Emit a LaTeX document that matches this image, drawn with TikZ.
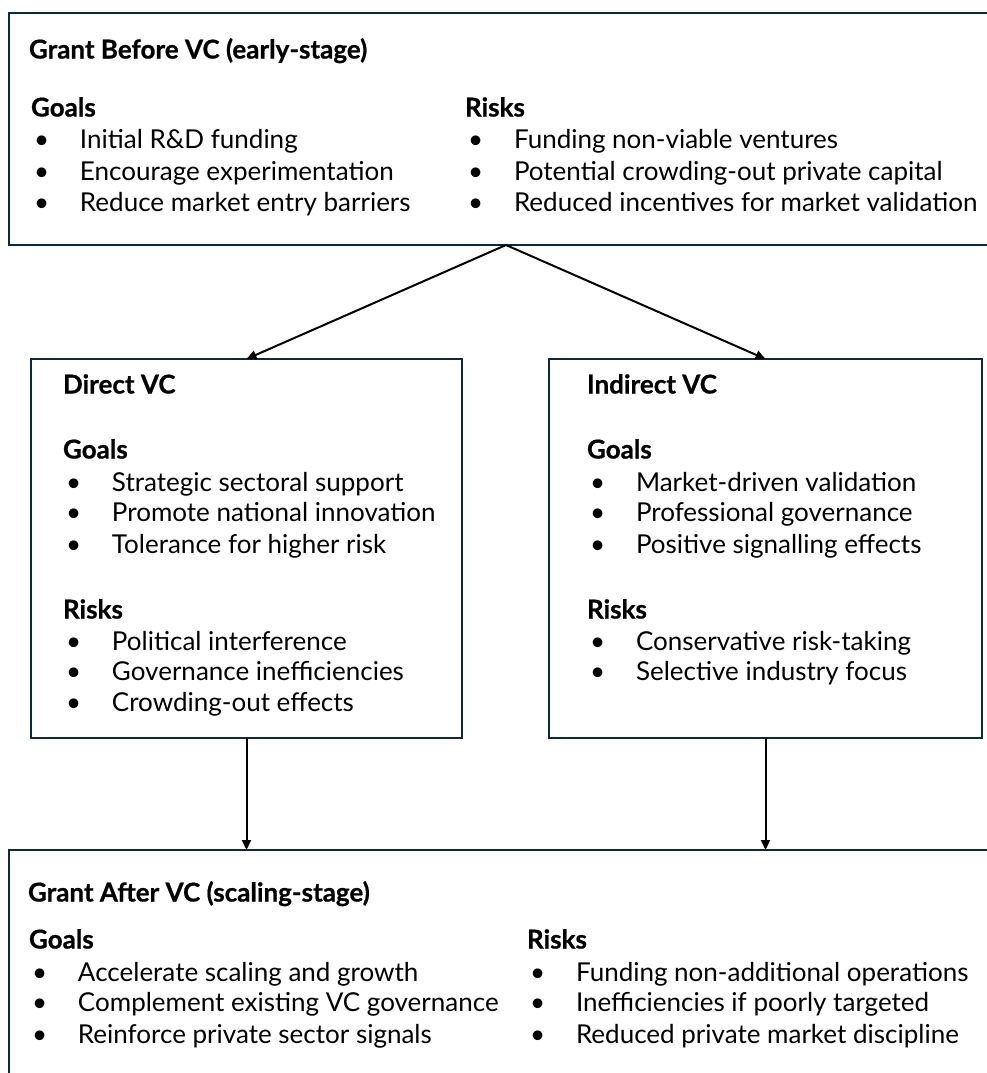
\documentclass[tikz,border=0pt]{standalone}
\usepackage{fontspec}
\setmainfont{Lato}[BoldFeatures={FakeBold=0.7}]
\usetikzlibrary{arrows.meta}
\definecolor{boxline}{HTML}{0E2A3A}
\newcommand{\bl}[1]{\makebox[46pt][l]{•}#1}
\begin{document}
\begin{tikzpicture}[x=1pt,y=-1pt,
  every node/.style={inner sep=0pt,outer sep=0pt},
  panel/.style={draw=boxline,line width=2.6pt,rectangle},
  txt/.style={anchor=mid west,yshift=-6pt,font=\fontsize{26}{30}\selectfont},
  hd/.style={anchor=mid west,yshift=-6pt,font=\fontsize{26}{30}\selectfont\bfseries},
  conn/.style={draw=black,line width=2pt,-{Triangle[length=10pt,width=9pt]}}]
\useasboundingbox (0,0) rectangle (987,1073);
\clip (0,0) rectangle (987,1073);
% boxes
\node[panel,minimum width=994pt,minimum height=232pt] (top) at (506,129) {};
\node[panel,minimum width=431pt,minimum height=379pt] (direct) at (246.5,548.5) {};
\node[panel,minimum width=433pt,minimum height=379pt] (indirect) at (765.5,548.5) {};
\node[panel,minimum width=1000pt,minimum height=260pt] (bottom) at (509,980) {};
% top texts
\node[hd] (t0) at (29,50) {Grant Before VC (early-stage)};
\node[hd] (tg) at (31,108) {Goals};
\node[txt] (tg1) at (34,140) {\bl{Initial R\&D funding}};
\node[txt] (tg2) at (34,172) {\bl{Encourage experimentation}};
\node[txt] (tg3) at (34,203) {\bl{Reduce market entry barriers}};
\node[hd] (tr) at (465,108) {Risks};
\node[txt] (tr1) at (468,140) {\bl{Funding non-viable ventures}};
\node[txt] (tr2) at (468,172) {\bl{Potential crowding-out private capital}};
\node[txt] (tr3) at (468,203) {\bl{Reduced incentives for market validation}};
% direct
\node[hd] (d0) at (63,385) {Direct VC};
\node[hd] (dg) at (63,450) {Goals};
\node[txt] (dg1) at (66,483) {\bl{Strategic sectoral support}};
\node[txt] (dg2) at (66,513) {\bl{Promote national innovation}};
\node[txt] (dg3) at (66,545) {\bl{Tolerance for higher risk}};
\node[hd] (dr) at (63,610) {Risks};
\node[txt] (dr1) at (66,642) {\bl{Political interference}};
\node[txt] (dr2) at (66,672) {\bl{Governance inefficiencies}};
\node[txt] (dr3) at (66,703) {\bl{Crowding-out effects}};
% indirect
\node[hd] (i0) at (587,385) {Indirect VC};
\node[hd] (ig) at (587,450) {Goals};
\node[txt] (ig1) at (590,483) {\bl{Market-driven validation}};
\node[txt] (ig2) at (590,513) {\bl{Professional governance}};
\node[txt] (ig3) at (590,545) {\bl{Positive signalling effects}};
\node[hd] (ir) at (587,610) {Risks};
\node[txt] (ir1) at (590,642) {\bl{Conservative risk-taking}};
\node[txt] (ir2) at (590,672) {\bl{Selective industry focus}};
% bottom
\node[hd] (b0) at (28,893) {Grant After VC (scaling-stage)};
\node[hd] (bg) at (29,940) {Goals};
\node[txt] (bg1) at (32,973) {\bl{Accelerate scaling and growth}};
\node[txt] (bg2) at (32,1003) {\bl{Complement existing VC governance}};
\node[txt] (bg3) at (32,1035) {\bl{Reinforce private sector signals}};
\node[hd] (br) at (527,940) {Risks};
\node[txt] (br1) at (530,973) {\bl{Funding non-additional operations}};
\node[txt] (br2) at (530,1003) {\bl{Inefficiencies if poorly targeted}};
\node[txt] (br3) at (530,1035) {\bl{Reduced private market discipline}};
% connectors
\draw[conn] (top.south) -- (direct.north);
\draw[conn] (top.south) -- (indirect.north);
\draw[conn] (direct.south) -- (direct.south |- bottom.north);
\draw[conn] (indirect.south) -- (indirect.south |- bottom.north);
\end{tikzpicture}
\end{document}
